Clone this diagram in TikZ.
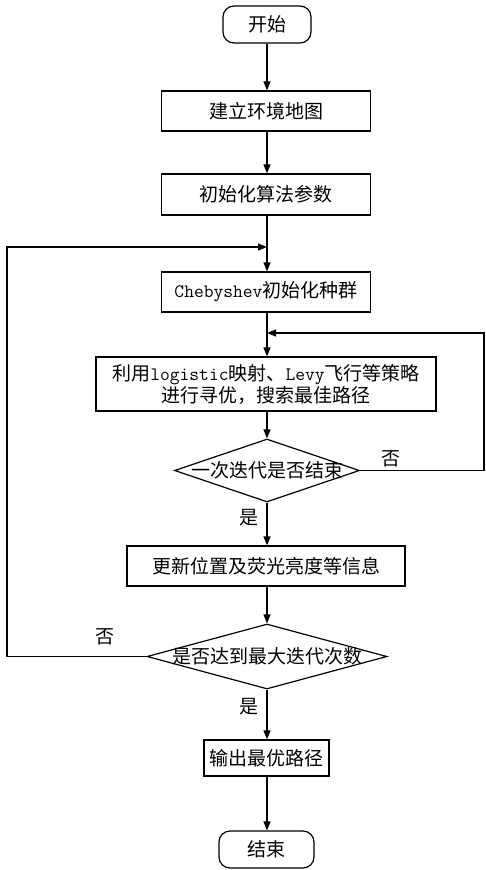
\documentclass[tikz,border=0pt]{standalone}
\usepackage{fontspec}
\newfontfamily\cjk{Noto Sans CJK SC}
\usetikzlibrary{shapes.geometric,arrows.meta}
\begin{document}
\begin{tikzpicture}[x=1pt,y=1pt,
  every node/.style={font=\cjk\fontsize{19}{22}\selectfont},
  proc/.style={draw, line width=1.2pt, inner sep=0pt, align=center},
  term/.style={proc, rounded corners=11pt},
  decide/.style={diamond, draw, line width=1.2pt, inner sep=0pt},
  flow/.style={line width=1.2pt, -{Triangle[length=9pt,width=7pt]}},
  lbl/.style={inner sep=0pt}]
\useasboundingbox (0,0) rectangle (485,-870);
\node[term, minimum width=88pt, minimum height=37pt] (start) at (267,-24.5) {开始};
\node[proc, minimum width=209pt, minimum height=40pt] (b1) at (266,-111) {建立环境地图};
\node[proc, minimum width=209pt, minimum height=41pt] (b2) at (266,-194.5) {初始化算法参数};
\node[proc, minimum width=209pt, minimum height=40pt] (b3) at (266,-292) {{\ttfamily Chebyshev}初始化种群};
\node[proc, minimum width=340pt, minimum height=54pt] (b4) at (266,-384) {利用{\ttfamily logistic}映射、{\ttfamily Levy}飞行等策略\\进行寻优，搜索最佳路径};
\node[decide, minimum width=185pt, minimum height=63pt] (d1) at (267,-470.5) {};
\node[lbl] (d1t) at (d1) {一次迭代是否结束};
\node[proc, minimum width=278pt, minimum height=40pt] (b5) at (266,-566) {更新位置及荧光亮度等信息};
\node[decide, minimum width=240pt, minimum height=65pt] (d2) at (267,-656.5) {};
\node[lbl] (d2t) at (d2) {是否达到最大迭代次数};
\node[proc, minimum width=125pt, minimum height=36pt] (b6) at (266.5,-758) {输出最优路径};
\node[term, minimum width=95pt, minimum height=37pt] (end) at (266.5,-849.5) {结束};
\coordinate (m1) at (267,-247);
\coordinate (m2) at (267,-333);
\coordinate (r1) at (484,-470.5);
\coordinate (l1) at (7,-656.5);
\draw[flow] (start.south -| 267,0) -- (b1.north -| 267,0);
\draw[flow] (b1.south -| 267,0) -- (b2.north -| 267,0);
\draw[flow] (b2.south -| 267,0) -- (b3.north -| 267,0);
\draw[flow] (b3.south -| 267,0) -- (b4.north -| 267,0);
\draw[flow] (b4.south -| 267,0) -- (d1.north);
\draw[flow] (d1.south) -- (b5.north -| 267,0);
\draw[flow] (b5.south -| 267,0) -- (d2.north);
\draw[flow] (d2.south) -- (b6.north -| 267,0);
\draw[flow] (b6.south -| 267,0) -- (end.north -| 267,0);
\draw[flow] (d1.east) -- (r1) |- (m2);
\draw[flow] (d2.west) -- (l1) |- (m1);
\node[lbl] (no1) at (391,-459) {否};
\node[lbl] (no2) at (105,-637) {否};
\node[lbl] (yes1) at (249,-518) {是};
\node[lbl] (yes2) at (249,-707) {是};
\end{tikzpicture}
\end{document}
